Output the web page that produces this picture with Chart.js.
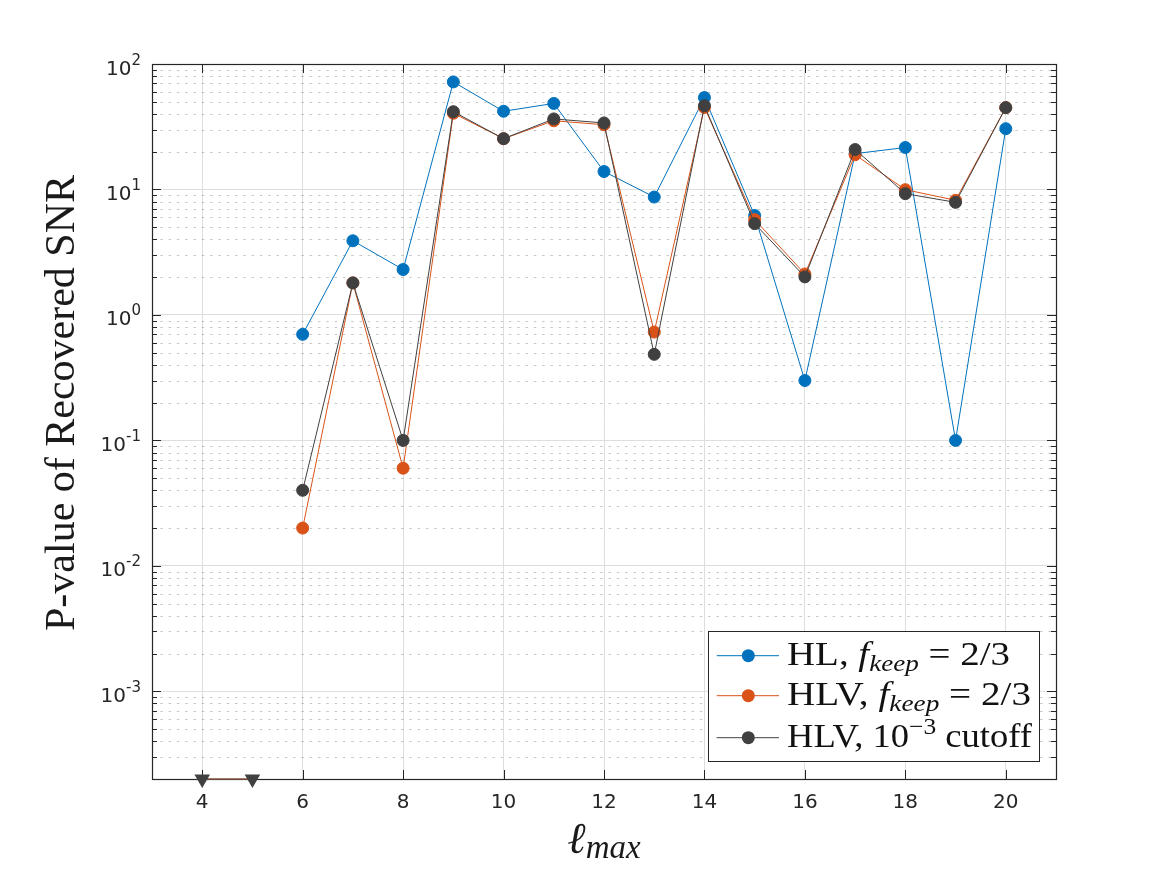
<!DOCTYPE html>
<html>
<head>
<meta charset="utf-8">
<script src="https://cdn.jsdelivr.net/npm/chart.js@4/dist/chart.umd.min.js"></script>
<style>
html,body{margin:0;padding:0;background:#fff;}
#wrap{width:1167px;height:875px;position:relative;}
</style>
</head>
<body>
<div id="wrap"><canvas id="c"></canvas></div>
<script>
// ---------- data ----------
const lmax = [6, 7, 8, 9, 10, 11, 12, 13, 14, 15, 16, 17, 18, 19, 20];
const hlKeep    = [0.70, 3.9, 2.3, 72, 42, 48.5, 13.9, 8.7, 54, 6.2, 0.30, 19.3, 21.6, 0.10, 30.5];
const hlvKeep   = [0.020, 1.8, 0.060, 40.5, 25.4, 35.3, 32.8, 0.73, 45, 5.75, 2.12, 18.9, 9.96, 8.2, 44.9];
const hlvCutoff = [0.040, 1.8, 0.10, 41.7, 25.4, 36.5, 33.9, 0.485, 46.5, 5.34, 2.01, 20.8, 9.26, 7.89, 44.9];
// points below the visible range (drawn on the axis floor)
const belowX = [4, 5];
const belowY = [2e-4, 2e-4];

const xTickValues = [4, 6, 8, 10, 12, 14, 16, 18, 20];
const xTickLabels = ['4', '6', '8', '10', '12', '14', '16', '18', '20'];
const yDecades = [1e-3, 1e-2, 1e-1, 1e0, 1e1, 1e2];
const yTickBase = '10';
const yTickExp = ['-3', '-2', '-1', '0', '1', '2'];
const X_MIN = 3, X_MAX = 21, Y_MIN = 2e-4, Y_MAX = 100;

const yTitle = 'P-value of Recovered SNR';
const xTitleMain = 'ℓ';
const xTitleSub = 'max';
const legendRows = [
  [['HL, ', 'r'], ['f', 'i'], ['keep', 'sub'], [' = 2/3', 'r']],
  [['HLV, ', 'r'], ['f', 'i'], ['keep', 'sub'], [' = 2/3', 'r']],
  [['HLV, 10', 'r'], ['−3', 'sup'], [' cutoff', 'r']]
];
const legendRowWidths = [223, 244, 245];

const C_BLUE = '#0072BD', C_ORANGE = '#D95319', C_DARK = '#404040';
const AX = '#262626';

function pts(xs, ys) { return xs.map((x, i) => ({ x: x, y: ys[i] })); }

function lineDs(label, xs, ys, color, order) {
  return {
    label: label, data: pts(xs, ys), borderColor: color, backgroundColor: color,
    pointBackgroundColor: color, pointBorderColor: color, borderWidth: 1,
    pointRadius: 6, pointBorderWidth: 1, pointHoverRadius: 6, tension: 0, order: order
  };
}

const datasets = [
  lineDs('HL, f_keep = 2/3', lmax, hlKeep, C_BLUE, 3),
  lineDs('HLV, f_keep = 2/3', lmax, hlvKeep, C_ORANGE, 2),
  lineDs('HLV, 10^-3 cutoff', lmax, hlvCutoff, C_DARK, 1),
  {
    label: 'below range', data: pts(belowX, belowY), borderColor: '#8a5646', borderWidth: 1.5,
    pointBackgroundColor: C_DARK, pointBorderColor: C_DARK, pointStyle: 'triangle',
    pointRotation: 180, pointRadius: 9, pointBorderWidth: 0, tension: 0, clip: false, order: 0
  }
];

function segWidth(ctx, parts, styles) {
  let w = 0;
  for (const [t, k] of parts) { ctx.font = styles[k].font; w += ctx.measureText(t).width; }
  return w;
}
function seg(ctx, x, y, parts, styles) {
  for (const [t, k] of parts) {
    const s = styles[k];
    ctx.font = s.font;
    ctx.fillText(t, x, y + s.dy);
    x += ctx.measureText(t).width;
  }
  return x;
}

const deco = {
  id: 'deco',
  beforeDatasetsDraw(chart) {
    const { ctx, chartArea: a, scales: { x, y } } = chart;
    ctx.save();
    // minor dotted grid
    ctx.strokeStyle = 'rgba(0,0,0,0.22)';
    ctx.lineWidth = 1;
    ctx.setLineDash([2.5, 5.8]);
    const minors = [];
    for (let d = -4; d <= 1; d++) for (let k = 2; k <= 9; k++) {
      const v = k * Math.pow(10, d);
      if (v <= Y_MIN * 1.001 || v >= Y_MAX) continue;
      minors.push(v);
    }
    for (const v of minors) {
      const py = Math.round(y.getPixelForValue(v)) + 0.5;
      ctx.beginPath(); ctx.moveTo(a.left, py); ctx.lineTo(a.right, py); ctx.stroke();
    }
    ctx.setLineDash([]);
    // box
    ctx.strokeStyle = AX; ctx.lineWidth = 1.2;
    ctx.strokeRect(Math.round(a.left) + 0.5, Math.round(a.top) + 0.5, Math.round(a.right - a.left), Math.round(a.bottom - a.top));
    // ticks
    ctx.lineWidth = 1;
    ctx.beginPath();
    for (const v of xTickValues) {
      const px = Math.round(x.getPixelForValue(v)) + 0.5;
      ctx.moveTo(px, a.bottom); ctx.lineTo(px, a.bottom - 9);
      ctx.moveTo(px, a.top); ctx.lineTo(px, a.top + 9);
    }
    for (const v of yDecades) {
      const py = Math.round(y.getPixelForValue(v)) + 0.5;
      ctx.moveTo(a.left, py); ctx.lineTo(a.left + 9, py);
      ctx.moveTo(a.right, py); ctx.lineTo(a.right - 9, py);
    }
    for (const v of minors) {
      const py = Math.round(y.getPixelForValue(v)) + 0.5;
      ctx.moveTo(a.left, py); ctx.lineTo(a.left + 5, py);
      ctx.moveTo(a.right, py); ctx.lineTo(a.right - 5, py);
    }
    ctx.stroke();
    ctx.restore();
  },
  afterDraw(chart) {
    const { ctx, chartArea: a, scales: { x, y } } = chart;
    ctx.save();
    ctx.fillStyle = AX;
    // x tick labels
    ctx.font = '20px "DejaVu Sans"';
    ctx.textAlign = 'center'; ctx.textBaseline = 'alphabetic';
    xTickValues.forEach((v, i) => ctx.fillText(xTickLabels[i], x.getPixelForValue(v), a.bottom + 29));
    // y tick labels
    ctx.textAlign = 'left';
    yDecades.forEach((v, i) => {
      const py = y.getPixelForValue(v);
      ctx.font = '15px "DejaVu Sans"';
      const we = ctx.measureText(yTickExp[i]).width;
      ctx.font = '20px "DejaVu Sans"';
      const wb = ctx.measureText(yTickBase).width;
      const right = a.left - 11;
      ctx.fillText(yTickBase, right - we - wb, py + 10.5);
      ctx.font = '15px "DejaVu Sans"';
      ctx.fillText(yTickExp[i], right - we, py + 0.5);
    });
    // y title
    ctx.save();
    ctx.fillStyle = '#1a1a1a';
    ctx.font = '42px "Liberation Serif"';
    ctx.textAlign = 'center';
    ctx.translate(74, 403);
    ctx.rotate(-Math.PI / 2);
    ctx.fillText(yTitle, 0, 0);
    ctx.restore();
    // x title
    ctx.fillStyle = '#1a1a1a';
    ctx.textAlign = 'left';
    ctx.font = 'italic 44px "Liberation Serif"';
    const w1 = ctx.measureText(xTitleMain).width;
    ctx.font = 'italic 33px "Liberation Serif"';
    const w2 = ctx.measureText(xTitleSub).width;
    const cx = (a.left + a.right) / 2;
    let sx = cx - (w1 + w2) / 2;
    ctx.font = 'italic 44px "Liberation Serif"';
    ctx.fillText(xTitleMain, sx, 852.7);
    ctx.font = 'italic 33px "Liberation Serif"';
    ctx.fillText(xTitleSub, sx + w1, 858.3);
    // legend
    const L = { x: 708.5, y: 631.5, w: 331, h: 130 };
    ctx.fillStyle = '#fff';
    ctx.fillRect(L.x, L.y, L.w, L.h);
    ctx.strokeStyle = AX; ctx.lineWidth = 1;
    ctx.strokeRect(L.x, L.y, L.w, L.h);
    const rowsY = [655.7, 695.7, 737.7];
    const cols = [C_BLUE, C_ORANGE, C_DARK];
    const styles = {
      r: { font: '33px "Liberation Serif"', dy: 0 },
      i: { font: 'italic 33px "Liberation Serif"', dy: 0 },
      sub: { font: 'italic 23px "Liberation Serif"', dy: 6 },
      sup: { font: '23px "Liberation Serif"', dy: -13 }
    };
    legendRows.forEach((row, i) => {
      const ry = rowsY[i];
      ctx.strokeStyle = cols[i]; ctx.lineWidth = 1;
      ctx.beginPath(); ctx.moveTo(716.7, ry); ctx.lineTo(779, ry); ctx.stroke();
      ctx.fillStyle = cols[i];
      ctx.beginPath(); ctx.arc(748.3, ry, 6.5, 0, Math.PI * 2); ctx.fill();
      ctx.fillStyle = '#111';
      const nat = segWidth(ctx, row, styles);
      ctx.save();
      ctx.translate(787, ry + 8.8);
      ctx.scale(legendRowWidths[i] / nat, 1);
      seg(ctx, 0, 0, row, styles);
      ctx.restore();
    });
    ctx.restore();
  }
};

new Chart(document.getElementById('c'), {
  type: 'line',
  data: { datasets: datasets },
  options: {
    responsive: true,
    maintainAspectRatio: false,
    animation: false,
    events: [],
    layout: { padding: { left: 152, top: 64, right: 111, bottom: 96 } },
    plugins: { legend: { display: false }, tooltip: { enabled: false } },
    scales: {
      x: {
        type: 'linear', min: X_MIN, max: X_MAX,
        afterBuildTicks: (ax) => { ax.ticks = xTickValues.map(v => ({ value: v })); },
        ticks: { display: false },
        border: { display: false },
        grid: { color: '#dedede', lineWidth: 1, drawTicks: false }
      },
      y: {
        type: 'logarithmic', min: Y_MIN, max: Y_MAX,
        afterBuildTicks: (ax) => { ax.ticks = yDecades.map(v => ({ value: v })); },
        ticks: { display: false },
        border: { display: false },
        grid: { color: '#dedede', lineWidth: 1, drawTicks: false }
      }
    }
  },
  plugins: [deco]
});
</script>
</body>
</html>
